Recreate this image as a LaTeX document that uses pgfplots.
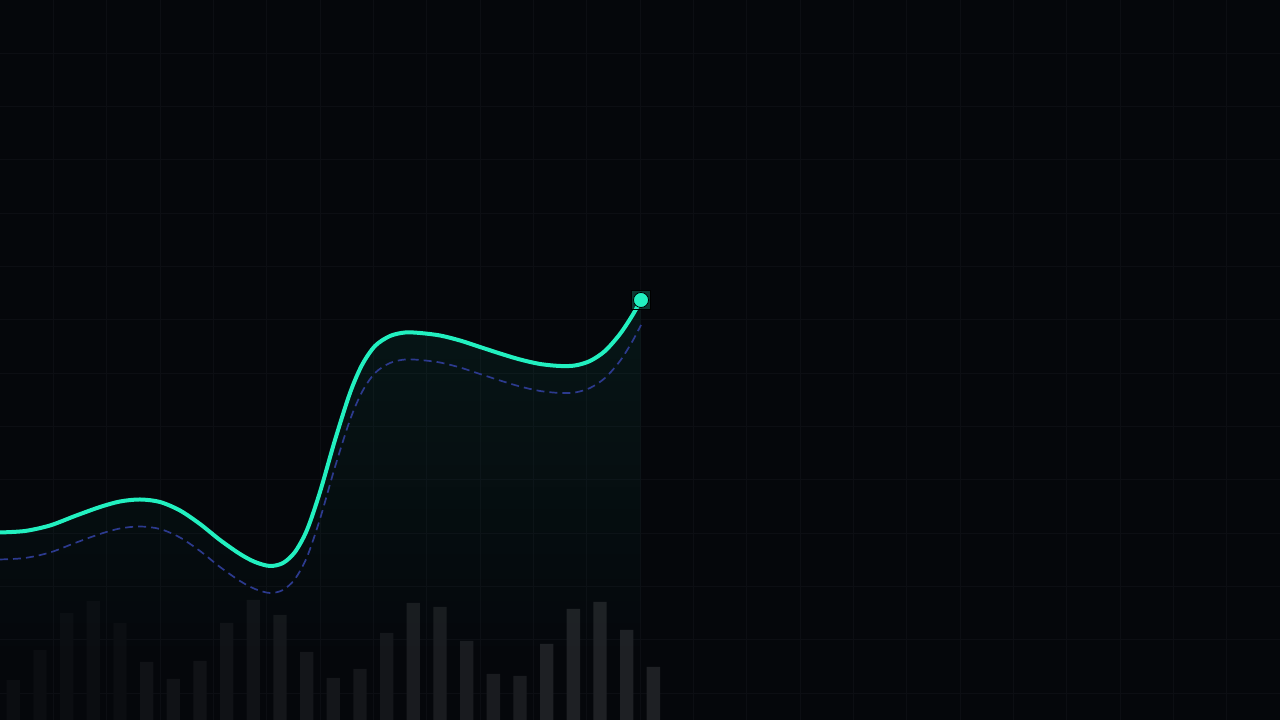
\documentclass[border=0pt]{standalone}
\usepackage{pgfplots}
\pgfplotsset{compat=1.18}
\usetikzlibrary{fadings}

\definecolor{bg}{RGB}{5,7,11}
\definecolor{gridc}{RGB}{12,14,19}
\definecolor{teal}{RGB}{34,240,192}
\definecolor{dashc}{RGB}{44,58,142}
\definecolor{barA}{RGB}{11,13,17}
\definecolor{barB}{RGB}{16,18,22}
\definecolor{barC}{RGB}{20,22,26}
\definecolor{barD}{RGB}{25,27,31}
\definecolor{barE}{RGB}{30,32,36}

% opaque at the top, gone by the lower third
\pgfdeclareverticalshading{fdshade}{100bp}{color(0bp)=(pgftransparent!100);
  color(30bp)=(pgftransparent!100); color(60bp)=(pgftransparent!60);
  color(100bp)=(pgftransparent!0)}
\pgfdeclarefading{fadedown}{\pgfuseshading{fdshade}}

\begin{document}
\begin{tikzpicture}
\begin{axis}[
  scale only axis, width=640bp, height=360bp,
  xmin=0, xmax=1280, ymin=0, ymax=720,
  axis background/.style={fill=bg},
  axis line style={draw=none},
  major tick length=0pt,
  xticklabels={}, yticklabels={},
  xtick={53.333,106.667,...,1270},
  ytick={26.667,80,...,700},
  grid=major,
  grid style={gridc, line width=0.5bp},
  bar width=13.33,
]
\coordinate (SW) at (rel axis cs:0,0);
\coordinate (NE) at (rel axis cs:1,1);

% faint volume bars, brighter to the right
\addplot[ybar, bar shift=0pt, draw=none, fill=barA] coordinates {
  (13.33,40) (40,70) (66.67,107) (93.33,119) (120,97)};
\addplot[ybar, bar shift=0pt, draw=none, fill=barB] coordinates {
  (146.67,58) (173.33,41) (200,59) (226.67,97) (253.33,120)};
\addplot[ybar, bar shift=0pt, draw=none, fill=barC] coordinates {
  (280,105) (306.67,68) (333.33,42) (360,51) (386.67,87)};
\addplot[ybar, bar shift=0pt, draw=none, fill=barD] coordinates {
  (413.33,117) (440,113) (466.67,79) (493.33,46) (520,44)};
\addplot[ybar, bar shift=0pt, draw=none, fill=barE] coordinates {
  (546.67,76) (573.33,111) (600,118) (626.67,90) (653.33,53)};

% area under the main line
\addplot[smooth, draw=none, fill=teal, fill opacity=0.11, path fading=fadedown, fit fading=true] coordinates {
  (0,187.5) (25,189) (50,194.5) (75,204) (100,213) (120,218.5) (140,220.5)
  (160,218) (180,209.5) (200,196) (220,180) (240,166) (255,158) (270,154)
  (283,157) (295,168) (307,190) (320,228) (335,280) (350,327) (362,355)
  (375,374) (390,384) (405,387.5) (420,387) (440,384.5) (460,379.5)
  (480,373) (500,366.5) (520,360.5) (540,356) (560,354) (575,354.5)
  (590,359) (605,369) (620,386) (632,404) (641,420)} \closedcycle;

% dashed comparison line
\addplot[smooth, dashc, line width=0.85bp, dash pattern=on 4bp off 2.5bp] coordinates {
  (0,160.5) (25,162) (50,167.5) (75,177) (100,186) (120,191.5) (140,193.5)
  (160,191) (180,182.5) (200,169) (220,153) (240,139) (255,131) (270,127)
  (283,130) (295,141) (307,163) (320,201) (335,253) (350,300) (362,328)
  (375,347) (390,357) (405,360.5) (420,360) (440,357.5) (460,352.5)
  (480,346) (500,339.5) (520,333.5) (540,329) (560,327) (575,327.5)
  (590,332) (605,342) (620,359) (632,378) (641,395)};

% main line
\addplot[smooth, teal, line width=2bp] coordinates {
  (0,187.5) (25,189) (50,194.5) (75,204) (100,213) (120,218.5) (140,220.5)
  (160,218) (180,209.5) (200,196) (220,180) (240,166) (255,158) (270,154)
  (283,157) (295,168) (307,190) (320,228) (335,280) (350,327) (362,355)
  (375,374) (390,384) (405,387.5) (420,387) (440,384.5) (460,379.5)
  (480,373) (500,366.5) (520,360.5) (540,356) (560,354) (575,354.5)
  (590,359) (605,369) (620,386) (632,404) (641,420)};

% end point marker with glow
\addplot[only marks, mark=square*, mark size=4.75bp,
  mark options={draw=none, fill=teal, fill opacity=0.22}] coordinates {(641,420)};
\addplot[only marks, mark=*, mark size=3.75bp,
  mark options={draw=none, fill=teal}] coordinates {(641,420)};
\end{axis}
\pgfresetboundingbox
\path[use as bounding box] (SW) rectangle (NE);
\end{tikzpicture}
\end{document}
